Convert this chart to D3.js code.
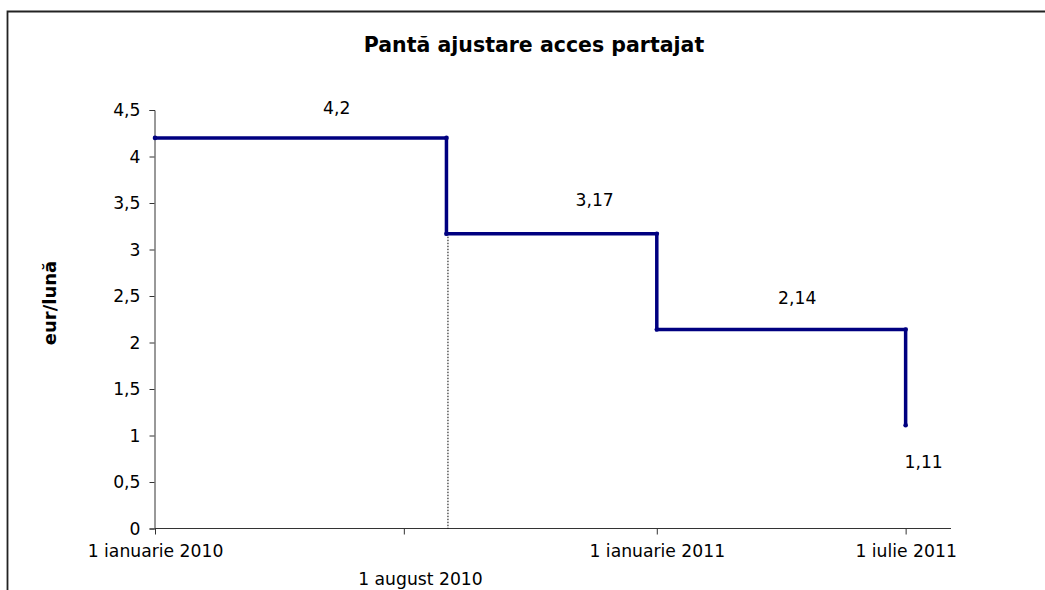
<!DOCTYPE html>
<html>
<head>
<meta charset="utf-8">
<script src="https://cdn.jsdelivr.net/npm/d3@7"></script>
<style>
  body { margin: 0; background: #fff; }
  text { font-family: "DejaVu Sans", Verdana, sans-serif; fill: #000; }
</style>
</head>
<body>
<script>
// step dates and values (eur/luna)
var stepDates = ["2010-01-01", "2010-08-01", "2011-01-01", "2011-07-01"];
var stepValues = [4.2, 3.17, 2.14, 1.11];
var xTickDates = ["2010-01-01", "2010-07-01", "2011-01-01", "2011-07-01"];
var xTickLabels = ["1 ianuarie 2010", "", "1 ianuarie 2011", "1 iulie 2011"];
var yTicks = [0, 0.5, 1, 1.5, 2, 2.5, 3, 3.5, 4, 4.5];

var svgWidth = 1045;
var svgHeight = 590;
var fontSize = "17.2px";
var parse = d3.utcParse("%Y-%m-%d");

var svg = d3.select("body")
  .append("svg")
  .attr("width", svgWidth)
  .attr("height", svgHeight);

// chart frame (cut off at right and bottom)
svg.append("path")
  .attr("d", "M7.5," + svgHeight + " L7.5,11.5 L" + svgWidth + ",11.5")
  .attr("fill", "none")
  .attr("stroke", "#222")
  .attr("stroke-width", 1.8);

var xScale = d3.scaleUtc()
  .domain([parse("2010-01-01"), parse("2011-08-03")])
  .range([155, 951]);

var yScale = d3.scaleLinear()
  .domain([0, 4.5])
  .range([528.5, 110]);

var fmt = function(v) { return String(v).replace(".", ","); };

svg.append("text")
  .attr("x", 534)
  .attr("y", 52)
  .style("text-anchor", "middle")
  .style("font-weight", "bold")
  .style("font-size", "20.5px")
  .text("Pantă ajustare acces partajat");

svg.append("text")
  .attr("transform", "translate(56,303) rotate(-90)")
  .style("text-anchor", "middle")
  .style("font-weight", "bold")
  .style("font-size", "18px")
  .text("eur/lună");

var leftAxis = d3.axisLeft(yScale)
  .tickValues(yTicks)
  .tickSize(5)
  .tickPadding(9)
  .tickFormat(fmt);

var gy = svg.append("g")
  .attr("transform", "translate(154.5,0)")
  .call(leftAxis);

var bottomAxis = d3.axisBottom(xScale)
  .tickValues(xTickDates.map(parse))
  .tickSize(6)
  .tickPadding(10)
  .tickFormat(function(d, i) { return xTickLabels[i]; });

var gx = svg.append("g")
  .attr("transform", "translate(0,528.5)")
  .call(bottomAxis);

[gx, gy].forEach(function(g) {
  g.select(".domain").attr("stroke", "#333");
  g.selectAll(".tick line").attr("stroke", "#333");
  g.selectAll(".tick text")
    .style("font-family", "'DejaVu Sans', Verdana, sans-serif")
    .style("font-size", fontSize)
    .attr("fill", "#000");
});
gx.select(".domain").attr("d", "M155,0H951");

// extra date label, set lower in the original
svg.append("text")
  .attr("x", xScale(parse("2010-08-01")) - 26)
  .attr("y", 585)
  .style("text-anchor", "middle")
  .style("font-size", fontSize)
  .text("1 august 2010");

var points = stepDates.map(function(d, i) {
  return { date: parse(d), value: stepValues[i] };
});

// dotted drop line at 1 august 2010
svg.append("line")
  .attr("x1", xScale(points[1].date) + 1.5)
  .attr("x2", xScale(points[1].date) + 1.5)
  .attr("y1", yScale(points[1].value))
  .attr("y2", yScale(0))
  .attr("stroke", "#000")
  .attr("stroke-width", 1)
  .attr("stroke-dasharray", "1.5,1.5");

var line = d3.line()
  .x(d => xScale(d.date))
  .y(d => yScale(d.value))
  .curve(d3.curveStepAfter);

svg.append("path")
  .datum(points)
  .attr("d", line)
  .attr("fill", "none")
  .attr("stroke", "#000080")
  .attr("stroke-width", 3.5);

// markers at each corner of the step
var corners = [];
points.forEach(function(p, i) {
  if (i > 0) corners.push({ date: p.date, value: points[i - 1].value });
  corners.push(p);
});

svg.selectAll(".marker")
  .data(corners)
  .enter()
  .append("circle")
  .attr("class", "marker")
  .attr("cx", d => xScale(d.date))
  .attr("cy", d => yScale(d.value))
  .attr("r", 2.3)
  .attr("fill", "#000080");

// value labels, centred on each step
var labelOffsets = [[36, -24], [43, -28], [16, -25], [18, 43]];

svg.selectAll(".vlabel")
  .data(points)
  .enter()
  .append("text")
  .attr("class", "vlabel")
  .attr("x", function(d, i) {
    var xa = xScale(d.date);
    var xb = i < points.length - 1 ? xScale(points[i + 1].date) : xa;
    return (xa + xb) / 2 + labelOffsets[i][0];
  })
  .attr("y", (d, i) => yScale(d.value) + labelOffsets[i][1])
  .style("text-anchor", "middle")
  .style("font-size", fontSize)
  .text(d => fmt(d.value));
</script>
</body>
</html>
